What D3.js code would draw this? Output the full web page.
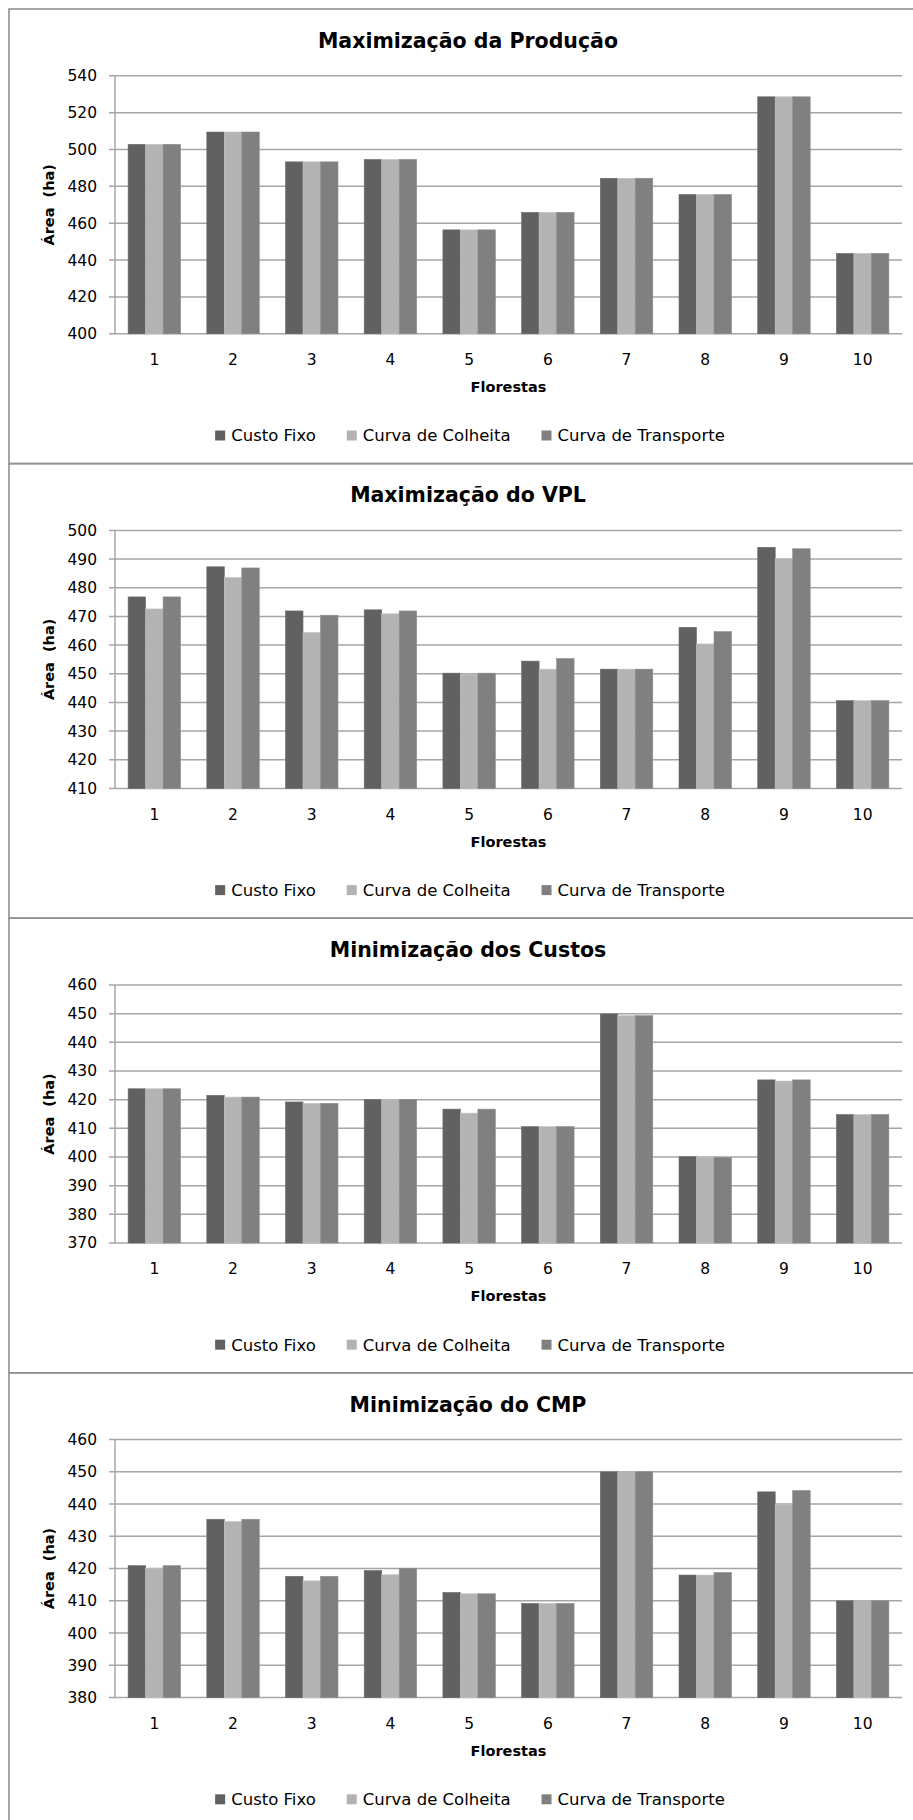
<!DOCTYPE html>
<html><head><meta charset="utf-8">
<script src="https://cdn.jsdelivr.net/npm/d3@7/dist/d3.min.js"></script>
<style>
html,body{margin:0;padding:0;background:#fff;}
svg{display:block;font-family:"DejaVu Sans",sans-serif;}
</style></head>
<body>
<svg id="c" width="913" height="1820"></svg>
<script>
const categories = ["1","2","3","4","5","6","7","8","9","10"];
const seriesNames = ["Custo Fixo","Curva de Colheita","Curva de Transporte"];
const panelTitles = ["Maximização da Produção","Maximização do VPL","Minimização dos Custos","Minimização do CMP"];
const xAxisTitle = "Florestas";
const yAxisTitle = "Área  (ha)";

const prodFixo       = [502.8,509.5,493.3,494.6,456.4,465.9,484.4,475.6,528.6,443.6];
const prodColheita   = [502.8,509.5,493.3,494.6,456.4,465.9,484.4,475.6,528.6,443.6];
const prodTransporte = [502.8,509.5,493.3,494.6,456.4,465.9,484.4,475.6,528.6,443.6];

const vplFixo        = [476.8,487.3,471.9,472.3,450.2,454.4,451.6,466.2,494.1,440.6];
const vplColheita    = [472.6,483.6,464.4,470.9,449.9,451.6,451.6,460.4,490.2,440.6];
const vplTransporte  = [476.8,486.9,470.4,471.9,450.2,455.3,451.6,464.7,493.6,440.6];

const custoFixo      = [423.8,421.5,419.2,420.0,416.7,410.6,449.9,400.1,426.9,414.8];
const custoColheita  = [423.8,420.9,418.7,420.0,415.3,410.6,449.3,399.8,426.5,414.8];
const custoTransporte= [423.8,420.9,418.7,420.0,416.7,410.6,449.3,399.8,426.9,414.8];

const cmpFixo        = [420.9,435.3,417.6,419.4,412.6,409.2,450.0,418.0,443.8,410.0];
const cmpColheita    = [420.1,434.6,416.2,418.1,412.2,409.2,450.0,418.0,440.0,410.0];
const cmpTransporte  = [420.9,435.3,417.6,420.1,412.2,409.2,450.0,418.8,444.2,410.0];

const yDomains = [[400,540],[410,500],[370,460],[380,460]];
const yTickSteps = [20,10,10,10];

const panelSeries = [
  [prodFixo,prodColheita,prodTransporte],
  [vplFixo,vplColheita,vplTransporte],
  [custoFixo,custoColheita,custoTransporte],
  [cmpFixo,cmpColheita,cmpTransporte]
];

const colors = ["#616161","#b3b3b3","#808080"];
const svg = d3.select("#c");

const panelH = 454.6, panelTop0 = 9;
const plotL = 115, plotR = 902;

panelSeries.forEach((ser, i) => {
  const T = panelTop0 + i*panelH;
  const g = svg.append("g");
  g.append("rect").attr("x",9).attr("y",T).attr("width",940).attr("height",panelH)
    .attr("fill","none").attr("stroke","#8f8f8f").attr("stroke-width",1.6);

  g.append("text").attr("x",468).attr("y",T+31.5).attr("dy","0.36em")
    .attr("text-anchor","middle").attr("font-weight","bold").attr("font-size",20.5)
    .attr("fill","#000").text(panelTitles[i]);

  const top = T+66.8, bot = T+324.8;
  const y = d3.scaleLinear().domain(yDomains[i]).range([bot, top]);
  const x0 = d3.scaleBand().domain(categories).range([plotL, plotR]).paddingInner(1.5/4.5).paddingOuter(0.75/4.5);
  const x1 = d3.scaleBand().domain(seriesNames).range([0, x0.bandwidth()]);

  const ticks = d3.range(yDomains[i][0], yDomains[i][1]+0.001, yTickSteps[i]);

  g.append("g").selectAll("line").data(ticks).join("line")
    .attr("x1",plotL-6).attr("x2",plotR)
    .attr("y1",d=>y(d)).attr("y2",d=>y(d))
    .attr("stroke","#a6a6a6").attr("stroke-width",1.5);

  g.append("line").attr("x1",plotL).attr("x2",plotL).attr("y1",top).attr("y2",bot)
    .attr("stroke","#a6a6a6").attr("stroke-width",1.5);

  const yAxis = d3.axisLeft(y).tickValues(ticks).tickSize(0).tickPadding(0).tickFormat(d3.format("d"));
  const ya = g.append("g").attr("transform",`translate(${plotL-18},0)`).call(yAxis);
  ya.select(".domain").remove();
  ya.selectAll("text").attr("font-family","DejaVu Sans").attr("font-size",15.5).attr("fill","#000");

  const grp = g.append("g").selectAll("g").data(categories).join("g")
    .attr("transform",d=>`translate(${x0(d)},0)`);
  grp.selectAll("rect").data((d,ci)=>seriesNames.map((s,si)=>({s,si,v:ser[si][ci]}))).join("rect")
    .attr("x",d=>x1(d.s)).attr("width",x1.bandwidth())
    .attr("y",d=>y(d.v)).attr("height",d=>bot-y(d.v))
    .attr("fill",d=>colors[d.si])
    .attr("stroke",d=>d3.color(colors[d.si]).brighter(0.25)).attr("stroke-width",0.6);

  const xAxis = d3.axisBottom(x0).tickSize(0).tickPadding(0);
  const xa = g.append("g").attr("transform",`translate(0,${T+350.5})`).call(xAxis);
  xa.select(".domain").remove();
  xa.selectAll("text").attr("font-family","DejaVu Sans").attr("font-size",15.5).attr("fill","#000").attr("dy","0.36em");

  g.append("text").attr("x",(plotL+plotR)/2).attr("y",T+378).attr("dy","0.36em")
    .attr("text-anchor","middle").attr("font-weight","bold").attr("font-size",14.5).text(xAxisTitle);

  g.append("text").attr("transform",`translate(49,${(top+bot)/2}) rotate(-90)`)
    .attr("dy","0.36em").attr("text-anchor","middle").attr("font-weight","bold").attr("font-size",14.5)
    .attr("xml:space","preserve").style("white-space","pre").text(yAxisTitle);

  const lg = g.append("g");
  const ly = T+426.5;
  const items = seriesNames.map((name,si)=>{
    const it = lg.append("g");
    it.append("rect").attr("width",10).attr("height",10).attr("y",-5).attr("fill",colors[si]);
    const t = it.append("text").attr("x",16).attr("dy","0.36em").attr("font-size",16.5).text(name);
    return {it, w: 16 + t.node().getComputedTextLength()};
  });
  const gap = 31;
  const total = d3.sum(items, d=>d.w) + gap*(items.length-1);
  let cx = 470 - total/2;
  items.forEach(d=>{ d.it.attr("transform",`translate(${cx},${ly})`); cx += d.w + gap; });
});
</script>
</body></html>
